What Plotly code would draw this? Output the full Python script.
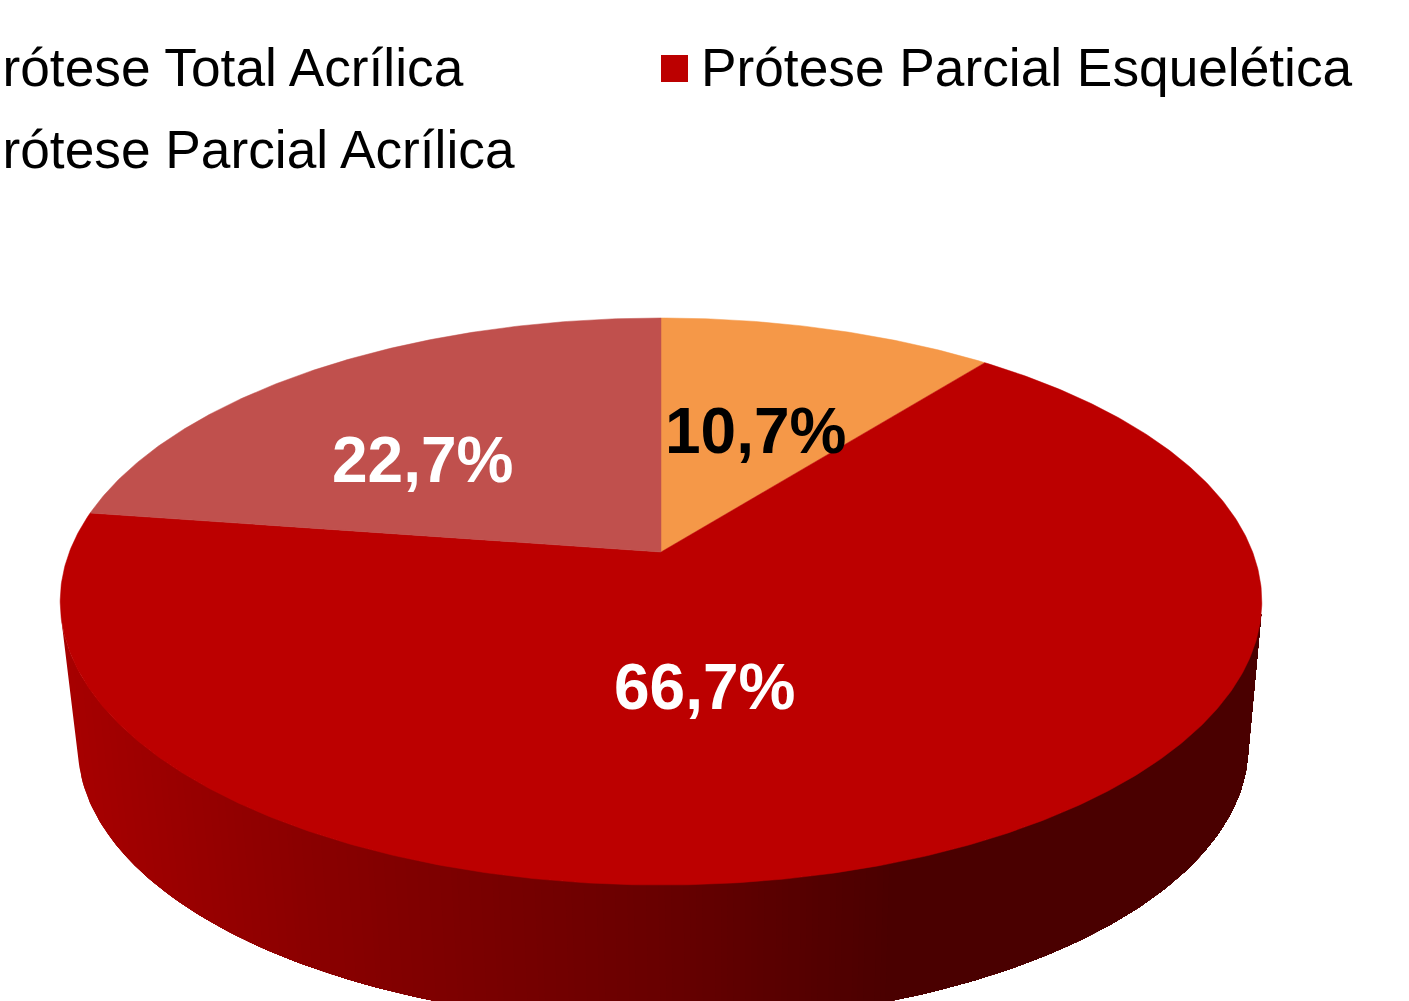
import numpy as np
import plotly.graph_objects as go

# data
categories = ["Prótese Total Acrílica", "Prótese Parcial Esquelética", "Prótese Parcial Acrílica"]
values = [10.7, 66.7, 22.7]
value_labels = ["10,7%", "66,7%", "22,7%"]
slice_colors = ["#F59848", "#BC0000", "#C0504D"]
label_colors = ["#000000", "#FFFFFF", "#FFFFFF"]
label_x = [755, 704, 422]
label_y = [431, 687, 460]

# wall shading stops (pixel x -> red channel)
wall_stop_x = [60, 300, 660, 890, 1270]
wall_stop_r = [168, 139, 104, 74, 74]

# perspective disc geometry (pixels)
CX, APEX_Y = 661, 552
A, B, K = 591.6, 274.9, 0.1746
ELL_CY = 601.5
WALL_DROP, WALL_SCALE, WALL_SHIFT = 145, 0.974, 2
W, H = 1409, 1001


def top(theta_deg, r=1.0):
    t = np.radians(theta_deg)
    x, y = r * np.sin(t), r * np.cos(t)
    d = 1 + K * y
    return CX + A * x / d, APEX_Y - B * y / d


def bottom(theta_deg):
    x, y = top(theta_deg)
    return CX + WALL_SHIFT + WALL_SCALE * (x - CX), ELL_CY + WALL_DROP + WALL_SCALE * (y - ELL_CY)


def silhouette_angle(lo, hi):
    """Angle where the wall edge runs along the disc rim, i.e. the visible limit of the wall."""
    grid = np.arange(lo, hi, 0.1)
    tx, ty = top(grid)
    bx, by = bottom(grid)
    cross = np.gradient(tx) * (by - ty) - np.gradient(ty) * (bx - tx)
    return float(grid[np.argmin(np.abs(cross[2:-2])) + 2])


fig = go.Figure()

# side wall: painted left to right, each band reaching to the far end so no seams show
END_ANGLE = silhouette_angle(60, 150)
START_ANGLE = silhouette_angle(210, 300)
last_r = None
for a0 in np.arange(START_ANGLE, END_ANGLE, -0.5):
    seg = np.r_[np.arange(a0, END_ANGLE, -1.0), END_ANGLE]
    tx, ty = top(seg)
    bx, by = bottom(seg)
    r = int(round(np.interp((tx[0] + bx[0]) / 2, wall_stop_x, wall_stop_r)))
    if r == last_r:
        continue
    last_r = r
    xs = np.r_[tx, bx[::-1], tx[0]]
    ys = np.r_[ty, by[::-1], ty[0]]
    fig.add_trace(go.Scatter(x=xs, y=ys, mode="lines", fill="toself", fillcolor=f"rgb({r},0,0)",
                             line=dict(width=0), hoverinfo="skip", showlegend=False))

# top face
total = sum(values)
cum = np.cumsum([0] + values) / total * 360
for i, name in enumerate(categories):
    seg = np.linspace(cum[i], cum[i + 1], max(int(cum[i + 1] - cum[i]) * 2, 4))
    ex, ey = top(seg)
    ax, ay = top(0.0, 0.0)
    xs = np.r_[ax, ex, ax]
    ys = np.r_[ay, ey, ay]
    fig.add_trace(go.Scatter(x=xs, y=ys, mode="lines", fill="toself", fillcolor=slice_colors[i],
                             line=dict(color=slice_colors[i], width=0.5), name=name,
                             hoverinfo="name+text", text=value_labels[i], showlegend=False))

# value labels
for t, c, lx, ly in zip(value_labels, label_colors, label_x, label_y):
    fig.add_annotation(x=lx, y=ly, text=f"<b>{t}</b>", showarrow=False, xanchor="center", yanchor="middle",
                       font=dict(family="Liberation Sans", size=64, color=c))

# legend (its left column runs off the canvas, as in the source)
legend_font = dict(family="Liberation Sans", size=53.25, color="#000000")
fig.add_annotation(x=466, y=67.5, text=categories[0], showarrow=False, xanchor="right", yanchor="middle", font=legend_font)
fig.add_annotation(x=517, y=149.5, text=categories[2], showarrow=False, xanchor="right", yanchor="middle", font=legend_font)
fig.add_annotation(x=699, y=67.5, text=categories[1], showarrow=False, xanchor="left", yanchor="middle", font=legend_font)
fig.add_trace(go.Scatter(x=[674.5], y=[68.5], mode="markers", hoverinfo="skip", showlegend=False,
                         marker=dict(symbol="square", size=27, color=slice_colors[1], line=dict(width=0))))

fig.update_layout(width=W, height=H, margin=dict(l=0, r=0, t=0, b=0), paper_bgcolor="white", plot_bgcolor="white",
                  showlegend=False,
                  xaxis=dict(range=[0, W], visible=False, fixedrange=True),
                  yaxis=dict(range=[H, 0], visible=False, fixedrange=True))

fig.write_html("out.html", config={"displayModeBar": False},
               post_script="document.body.style.margin='0';document.documentElement.style.overflow='hidden';")
